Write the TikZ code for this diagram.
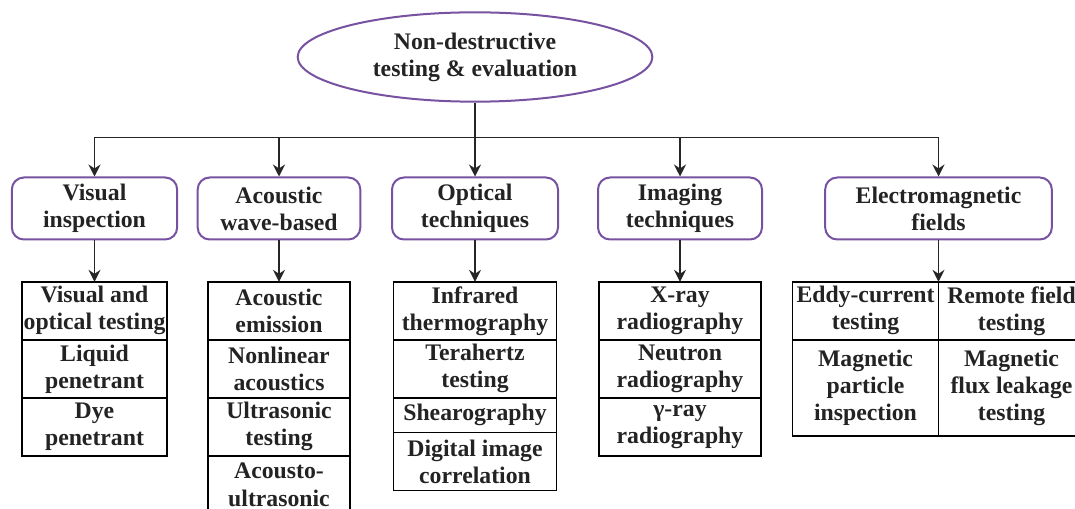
\documentclass[tikz,border=0pt]{standalone}
\usepackage{fontspec}
\setmainfont{Liberation Serif}
\usetikzlibrary{positioning, calc, shapes.geometric, arrows.meta}

\definecolor{roxo}{RGB}{118,82,160}
\definecolor{texto}{RGB}{35,35,35}

\begin{document}
\begin{tikzpicture}[
    x=0.75pt, y=-0.75pt,
    node distance=31pt,
    font=\fontsize{17.8}{20.3}\selectfont\bfseries, % Fonte negrito
    text=texto,
    % Estilos
    root_box/.style={
        ellipse, draw=roxo, line width=1.5pt, align=center,
        minimum width=266pt, minimum height=67pt, inner sep=0pt
    },
    cat_box/.style={
        draw=roxo, rectangle, rounded corners=9pt, line width=1.5pt,
        align=center, minimum height=46.5pt, inner sep=1pt
    },
    item_box/.style={
        draw, rectangle, line width=1.1pt, align=center,
        minimum height=43.5pt, inner sep=1pt, outer sep=0pt
    },
    line/.style={-, line width=1.1pt, color=black!85},
    arrow/.style={-{Stealth[length=9pt, width=9pt, inset=3pt]}, line width=1.1pt, color=black!85}
]
    \useasboundingbox (0,0) rectangle (1075,509);

    % --- NÓS ---
    \node[root_box] (root) at (475,57) {Non-destructive\\testing \& evaluation};

    % Categorias (Nível 1)
    \node[cat_box, minimum width=124pt] (c_visual) at (94.5,208.5) {Visual\\inspection};
    \node[cat_box, minimum width=122pt] (c_acoustic) at (279,208.5) {Acoustic\\wave-based};
    \node[cat_box, minimum width=124.5pt] (c_optical) at (475,208.5) {Optical\\techniques};
    \node[cat_box, minimum width=123pt] (c_imaging) at (680,208.5) {Imaging\\techniques};
    \node[cat_box, minimum width=170pt] (c_em) at (938.5,208.5) {Electromagnetic\\fields};

    % Folhas C1
    \node[item_box, minimum width=109pt, below=of c_visual] (l1a) {Visual and\\optical testing};
    \node[item_box, minimum width=109pt, below=0pt of l1a] (l1b) {Liquid\\penetrant};
    \node[item_box, minimum width=109pt, below=0pt of l1b] (l1c) {Dye\\penetrant};

    % Folhas C2
    \node[item_box, minimum width=106.5pt, below=of c_acoustic] (l2a) {Acoustic\\emission};
    \node[item_box, minimum width=106.5pt, below=0pt of l2a] (l2b) {Nonlinear\\acoustics};
    \node[item_box, minimum width=106.5pt, below=0pt of l2b] (l2c) {Ultrasonic\\testing};
    \node[item_box, minimum width=106.5pt, below=0pt of l2c] (l2d) {Acousto-\\ultrasonic};

    % Folhas C3
    \node[item_box, minimum width=122pt, below=of c_optical] (l3a) {Infrared\\thermography};
    \node[item_box, minimum width=122pt, below=0pt of l3a] (l3b) {Terahertz\\testing};
    \node[item_box, minimum width=122pt, minimum height=26pt, below=0pt of l3b] (l3c) {Shearography};
    \node[item_box, minimum width=122pt, below=0pt of l3c] (l3d) {Digital image\\correlation};

    % Folhas C4
    \node[item_box, minimum width=121.5pt, below=of c_imaging] (l4a) {X-ray\\radiography};
    \node[item_box, minimum width=121.5pt, below=0pt of l4a] (l4b) {Neutron\\radiography};
    \node[item_box, minimum width=121.5pt, below=0pt of l4b] (l4c) {γ-ray\\radiography};

    % Folhas C5 (grade 2x2)
    \coordinate[below=of c_em] (em_top);
    \node[item_box, minimum width=109.5pt, anchor=north east] (l5a) at (em_top) {Eddy-current\\testing};
    \node[item_box, minimum width=109.5pt, anchor=north west] (l5b) at (em_top) {Remote field\\testing};
    \node[item_box, minimum width=109.5pt, minimum height=72pt, below=0pt of l5a] (l5c) {Magnetic\\particle\\inspection};
    \node[item_box, minimum width=109.5pt, minimum height=72pt, below=0pt of l5b] (l5d) {Magnetic\\flux leakage\\testing};

    % --- CONEXÕES ---

    % Linha Vertical da Raiz
    \coordinate[below=26pt of root.south] (bus_y);
    \draw[line] (root.south) -- (bus_y);

    % Barra Horizontal (Bus)
    \draw[line] (c_visual.north |- bus_y) -- (c_em.north |- bus_y);

    % Setas para Categorias
    \draw[arrow] (c_visual.north |- bus_y) -- (c_visual.north);
    \draw[arrow] (c_acoustic.north |- bus_y) -- (c_acoustic.north);
    \draw[arrow] (c_optical.north |- bus_y) -- (c_optical.north);
    \draw[arrow] (c_imaging.north |- bus_y) -- (c_imaging.north);
    \draw[arrow] (c_em.north |- bus_y) -- (c_em.north);

    % Setas (Categoria -> Lista)
    \draw[arrow] (c_visual.south) -- (l1a.north);
    \draw[arrow] (c_acoustic.south) -- (c_acoustic.south |- l2a.north);
    \draw[arrow] (c_optical.south) -- (c_optical.south |- l3a.north);
    \draw[arrow] (c_imaging.south) -- (c_imaging.south |- l4a.north);
    \draw[arrow] (c_em.south) -- (em_top);

\end{tikzpicture}
\end{document}
